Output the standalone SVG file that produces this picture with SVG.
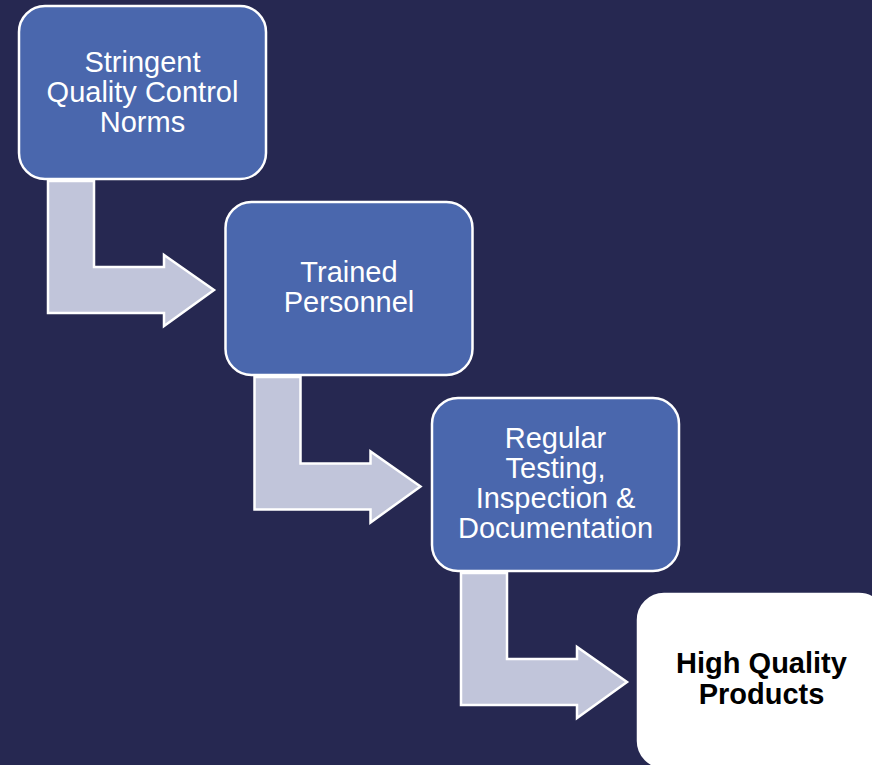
<svg xmlns="http://www.w3.org/2000/svg" width="872" height="765" viewBox="0 0 872 765">
<style>
.box{fill:#4a67ad;stroke:#ffffff;stroke-width:2.5}
.final{fill:#ffffff;stroke:#ffffff;stroke-width:2.5}
.arrow{fill:#c1c5da;stroke:#ffffff;stroke-width:2.5;stroke-linejoin:miter}
.t{font-family:"Liberation Sans",Arial,sans-serif;font-size:29px;fill:#ffffff;text-anchor:middle}
.tb{font-family:"Liberation Sans",Arial,sans-serif;font-size:29px;font-weight:bold;fill:#000000;text-anchor:middle}
</style>
<rect width="872" height="765" fill="#262851"/>
<g id="connectors">
<path class="arrow" d="M48,181 H94 V267 H164 V255 L214,290 L164,326 V313 H48 Z"/>
<path class="arrow" d="M254.5,377 H300.5 V463.5 H370.5 V451.5 L420.5,486.5 L370.5,522.5 V509.5 H254.5 Z"/>
<path class="arrow" d="M461,573 H507 V659 H577 V647 L627,682 L577,718 V705 H461 Z"/>
</g>
<g id="node1">
<rect class="box" x="19" y="6" width="247" height="173" rx="26"/>
<text class="t" x="142.5" y="72">Stringent</text>
<text class="t" x="142.5" y="102">Quality Control</text>
<text class="t" x="142.5" y="132">Norms</text>
</g>
<g id="node2">
<rect class="box" x="225.5" y="202" width="247" height="173" rx="26"/>
<text class="t" x="349" y="282">Trained</text>
<text class="t" x="349" y="312">Personnel</text>
</g>
<g id="node3">
<rect class="box" x="432" y="398" width="247" height="173" rx="26"/>
<text class="t" x="555.5" y="448">Regular</text>
<text class="t" x="555.5" y="478">Testing,</text>
<text class="t" x="555.5" y="508">Inspection &amp;</text>
<text class="t" x="555.5" y="538">Documentation</text>
</g>
<g id="node4">
<rect class="final" x="638" y="594" width="247" height="173" rx="26"/>
<text class="tb" x="761.5" y="673">High Quality</text>
<text class="tb" x="761.5" y="704">Products</text>
</g>
</svg>
